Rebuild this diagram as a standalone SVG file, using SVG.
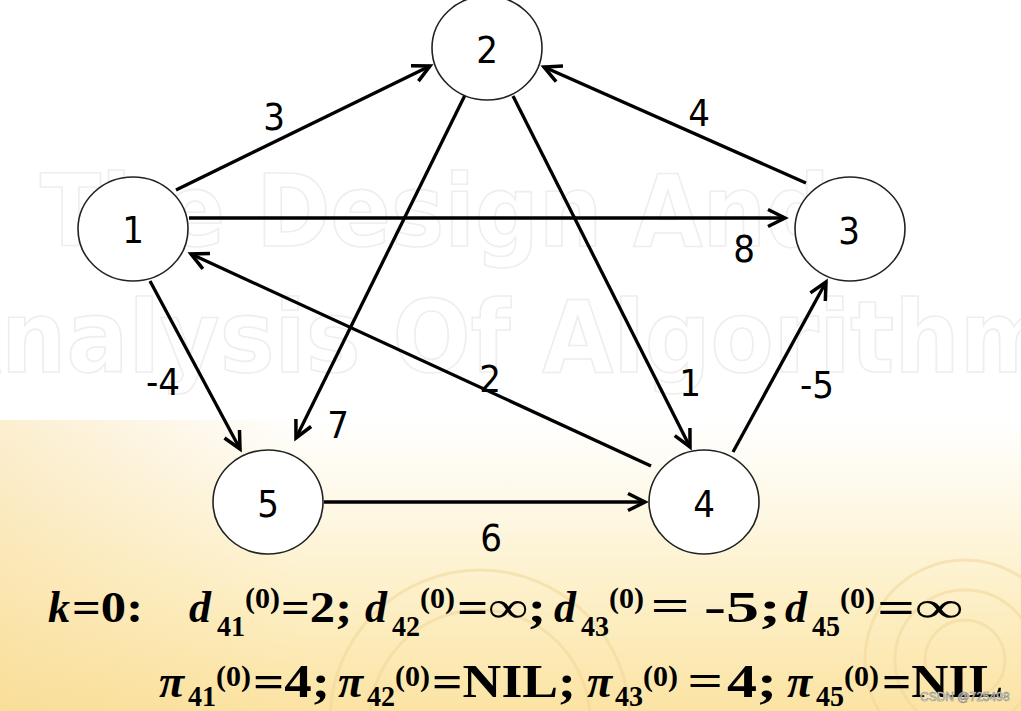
<svg xmlns="http://www.w3.org/2000/svg" width="1021" height="711" viewBox="0 0 1021 711">
  <defs>
    <linearGradient id="bg" x1="0" y1="0" x2="0" y2="1">
      <stop offset="0" stop-color="#ffffff"/>
      <stop offset="0.2" stop-color="#fefaee"/>
      <stop offset="0.6" stop-color="#fdf0c8"/>
      <stop offset="1" stop-color="#fbe3a3"/>
    </linearGradient>
    <linearGradient id="side" x1="0" y1="0" x2="1" y2="0">
      <stop offset="0" stop-color="#f7d68a" stop-opacity="0.4"/>
      <stop offset="0.3" stop-color="#f7d68a" stop-opacity="0"/>
    </linearGradient>
    <marker id="arr" markerUnits="userSpaceOnUse" markerWidth="26" markerHeight="26" refX="20" refY="12" orient="auto">
      <path d="M3,3.5 L20,12 L3,20.5" fill="none" stroke="#000" stroke-width="3.5" stroke-linejoin="miter"/>
    </marker>
    <style>
      .node ellipse { fill: #fff; stroke: #222; stroke-width: 1.6; }
      .nl { font-family: "DejaVu Sans Condensed", "DejaVu Sans", sans-serif; font-size: 38px; fill: #000; text-anchor: middle; }
      .el { font-family: "DejaVu Sans Condensed", "DejaVu Sans", sans-serif; font-size: 38px; fill: #000; text-anchor: middle; }
      .edge { stroke: #000; stroke-width: 3.3; fill: none; marker-end: url(#arr); }
      .wm { font-family: "DejaVu Sans Condensed", "DejaVu Sans", sans-serif; font-weight: bold; fill: none; stroke: #eeeeee; stroke-width: 1.6; }
      .ring { fill: none; stroke: #f1d79a; stroke-width: 3; opacity: 0.55; }
      .m { font-family: "Liberation Serif", serif; font-weight: bold; font-size: 44px; fill: #000; }
      .m2 { font-family: "Liberation Serif", serif; font-weight: bold; font-size: 46px; fill: #000; }
      .i { font-style: italic; }
      .sb { font-family: "Liberation Serif", serif; font-weight: bold; font-size: 29px; fill: #000; }
      .sp { font-family: "Liberation Serif", serif; font-weight: bold; font-size: 30px; fill: #000; }
      .fw { font-family: "Noto Sans CJK SC", sans-serif; font-weight: normal; font-size: 42px; fill: #000; }
    </style>
  </defs>

  <g id="background">
    <rect x="0" y="0" width="1021" height="711" fill="#fff"/>
    <rect x="0" y="420" width="1021" height="291" fill="url(#bg)"/>
    <rect x="0" y="420" width="1021" height="291" fill="url(#side)"/>
    <circle class="ring" cx="965" cy="660" r="40"/>
    <circle class="ring" cx="965" cy="660" r="70"/>
    <circle class="ring" cx="965" cy="660" r="100"/>
    <circle class="ring" cx="480" cy="720" r="110"/>
    <circle class="ring" cx="480" cy="720" r="150"/>
    <text class="wm" x="40" y="246" font-size="100" textLength="790" lengthAdjust="spacingAndGlyphs">The Design And</text>
    <text class="wm" x="-70" y="372" font-size="100" textLength="1180" lengthAdjust="spacingAndGlyphs">Analysis Of Algorithms</text>
  </g>

  <g id="connectors">
    <line class="edge" x1="176" y1="190" x2="430" y2="66"/>
    <line class="edge" x1="806" y1="183" x2="544" y2="67"/>
    <line class="edge" x1="189" y1="218" x2="785" y2="218"/>
    <line class="edge" x1="651" y1="466" x2="191" y2="254"/>
    <line class="edge" x1="469" y1="87" x2="296" y2="438"/>
    <line class="edge" x1="513" y1="96" x2="690" y2="447"/>
    <line class="edge" x1="150" y1="281" x2="240" y2="449"/>
    <line class="edge" x1="733" y1="452" x2="826" y2="282"/>
    <line class="edge" x1="324" y1="502" x2="645" y2="502"/>
    <text class="el" x="274" y="130">3</text>
    <text class="el" x="699" y="126">4</text>
    <text class="el" x="744" y="262">8</text>
    <text class="el" x="163" y="395">-4</text>
    <text class="el" x="338" y="438">7</text>
    <text class="el" x="490" y="392">2</text>
    <text class="el" x="690" y="396">1</text>
    <text class="el" x="817" y="398">-5</text>
    <text class="el" x="491" y="551">6</text>
  </g>

  <g id="node1" class="node">
    <ellipse cx="133" cy="229" rx="55" ry="52"/>
    <text class="nl" x="133" y="243">1</text>
  </g>
  <g id="node2" class="node">
    <ellipse cx="487" cy="48" rx="55" ry="52"/>
    <text class="nl" x="487" y="63">2</text>
  </g>
  <g id="node3" class="node">
    <ellipse cx="850" cy="229" rx="55" ry="52"/>
    <text class="nl" x="849" y="244">3</text>
  </g>
  <g id="node4" class="node">
    <ellipse cx="704" cy="502" rx="55" ry="52"/>
    <text class="nl" x="704" y="517">4</text>
  </g>
  <g id="node5" class="node">
    <ellipse cx="268" cy="502" rx="55" ry="52"/>
    <text class="nl" x="268" y="517">5</text>
  </g>

  <g id="caption-line1">
    <text class="m i" x="48" y="622">k</text>
    <text class="m" x="72" y="622" textLength="71" lengthAdjust="spacingAndGlyphs">=0:</text>
    <text class="m i" x="189" y="622">d</text>
    <text class="sb" x="217" y="636" textLength="28" lengthAdjust="spacingAndGlyphs">41</text>
    <text class="sp" x="245" y="608" textLength="35" lengthAdjust="spacingAndGlyphs">(0)</text>
    <text class="m" x="281" y="622" textLength="71" lengthAdjust="spacingAndGlyphs">=2;</text>
    <text class="m i" x="365" y="622">d</text>
    <text class="sb" x="392" y="636" textLength="28" lengthAdjust="spacingAndGlyphs">42</text>
    <text class="sp" x="420" y="608" textLength="35" lengthAdjust="spacingAndGlyphs">(0)</text>
    <text class="m" x="457" y="622" textLength="89" lengthAdjust="spacingAndGlyphs">=∞;</text>
    <text class="m i" x="554" y="622">d</text>
    <text class="sb" x="581" y="636" textLength="28" lengthAdjust="spacingAndGlyphs">43</text>
    <text class="sp" x="609" y="608" textLength="35" lengthAdjust="spacingAndGlyphs">(0)</text>
    <text class="fw" x="648" y="622" textLength="44" lengthAdjust="spacingAndGlyphs">＝</text>
    <text class="m" x="704" y="622" textLength="77" lengthAdjust="spacingAndGlyphs">-5;</text>
    <text class="m i" x="785" y="622">d</text>
    <text class="sb" x="812" y="636" textLength="28" lengthAdjust="spacingAndGlyphs">45</text>
    <text class="sp" x="840" y="608" textLength="35" lengthAdjust="spacingAndGlyphs">(0)</text>
    <text class="m" x="877" y="622" textLength="86" lengthAdjust="spacingAndGlyphs">=∞</text>
  </g>

  <g id="caption-line2">
    <text class="m2 i" x="159" y="697">π</text>
    <text class="sb" x="188" y="706" textLength="28" lengthAdjust="spacingAndGlyphs">41</text>
    <text class="sp" x="216" y="686" textLength="35" lengthAdjust="spacingAndGlyphs">(0)</text>
    <text class="m2" x="253" y="697" textLength="77" lengthAdjust="spacingAndGlyphs">=4;</text>
    <text class="m2 i" x="338" y="697">π</text>
    <text class="sb" x="367" y="706" textLength="28" lengthAdjust="spacingAndGlyphs">42</text>
    <text class="sp" x="395" y="686" textLength="35" lengthAdjust="spacingAndGlyphs">(0)</text>
    <text class="m2" x="432" y="697" textLength="144" lengthAdjust="spacingAndGlyphs">=NIL;</text>
    <text class="m2 i" x="587" y="697">π</text>
    <text class="sb" x="615" y="706" textLength="28" lengthAdjust="spacingAndGlyphs">43</text>
    <text class="sp" x="643" y="686" textLength="35" lengthAdjust="spacingAndGlyphs">(0)</text>
    <text class="fw" x="685" y="697" textLength="40" lengthAdjust="spacingAndGlyphs">＝</text>
    <text class="m2" x="727" y="697" textLength="50" lengthAdjust="spacingAndGlyphs">4;</text>
    <text class="m2 i" x="787" y="697">π</text>
    <text class="sb" x="816" y="706" textLength="28" lengthAdjust="spacingAndGlyphs">45</text>
    <text class="sp" x="844" y="686" textLength="35" lengthAdjust="spacingAndGlyphs">(0)</text>
    <text class="m2" x="882" y="697" textLength="121" lengthAdjust="spacingAndGlyphs">=NIL</text>
    <text x="920" y="701" font-family="Liberation Sans, sans-serif" font-size="12" fill="#fff" stroke="#888" stroke-width="0.6">CSDN @725498</text>
  </g>
</svg>
